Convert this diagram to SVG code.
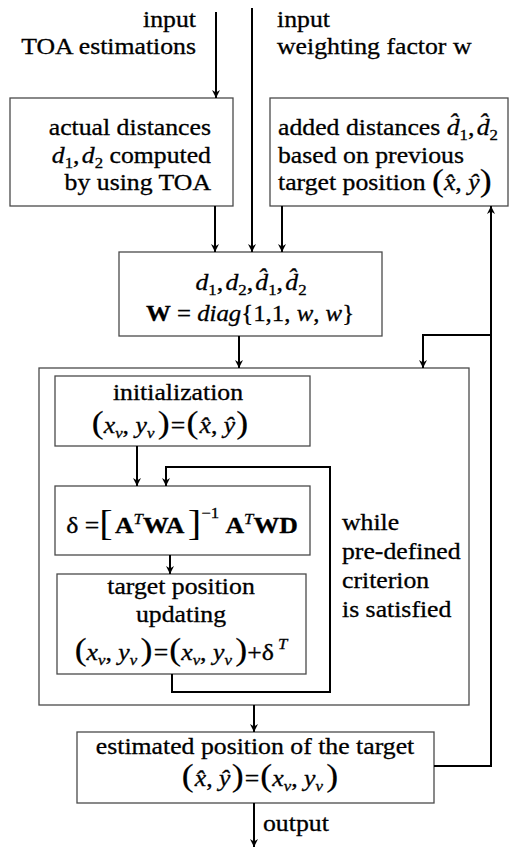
<svg xmlns="http://www.w3.org/2000/svg" width="511" height="848" viewBox="0 0 511 848">
<style>
  text { font-family: 'Liberation Serif', 'Times New Roman', serif; font-size: 23px; fill: #000; stroke: #000; stroke-width: 0.3; }
  .i { font-style: italic; }
  .b { font-weight: bold; }
  .s { font-size: 15px; }
  .p { font-size: 32px; stroke-width: 0.2; }
  .br { font-size: 36px; stroke-width: 0; }
  .box { fill: #fff; stroke: #4a4a4a; stroke-width: 1.3; }
  .wire { fill: none; stroke: #000; stroke-width: 2; }
</style>
<defs>
  <marker id="ah" viewBox="0 0 10 10" refX="10" refY="5" markerWidth="8" markerHeight="9" markerUnits="userSpaceOnUse" orient="auto">
    <path d="M0,0 L10,5 L0,10 L3,5 z" fill="#000"/>
  </marker>
</defs>

<!-- input labels -->
<g id="input-toa">
  <text transform="translate(196,27) scale(1.12,1)" text-anchor="end">input</text>
  <text transform="translate(196,54) scale(1.12,1)" text-anchor="end">TOA estimations</text>
</g>
<g id="input-w">
  <text transform="translate(277,27) scale(1.12,1)">input</text>
  <text transform="translate(277,54) scale(1.12,1)">weighting factor w</text>
</g>

<!-- actual distances -->
<g id="actual">
  <rect class="box" x="10" y="98" width="223" height="108"/>
  <text transform="translate(211,135) scale(1.12,1)" text-anchor="end">actual distances</text>
  <text transform="translate(211,163) scale(1.12,1)" text-anchor="end"><tspan class="i">d</tspan><tspan class="s" dy="5">1</tspan><tspan dy="-5">,</tspan><tspan class="i" dx="2">d</tspan><tspan class="s" dy="5">2</tspan><tspan dy="-5">  computed</tspan></text>
  <text transform="translate(211,190) scale(1.12,1)" text-anchor="end">by using TOA</text>
</g>

<!-- added distances -->
<g id="added">
  <rect class="box" x="270" y="98" width="238" height="108"/>
  <text transform="translate(278,135) scale(1.12,1)">added distances <tspan class="i">d&#x302;</tspan><tspan class="s" dy="5">1</tspan><tspan dy="-5">,</tspan><tspan class="i" dx="2">d&#x302;</tspan><tspan class="s" dy="5">2</tspan></text>
  <text transform="translate(278,163) scale(1.12,1)">based on previous</text>
  <text transform="translate(278,190) scale(1.12,1)">target position <tspan class="p" dy="1">(</tspan><tspan class="i" dy="-1">x&#x302;</tspan>, <tspan class="i">&#x177;</tspan><tspan class="p" dy="1">)</tspan></text>
</g>

<!-- combined inputs -->
<g id="combine">
  <rect class="box" x="119" y="252" width="263" height="84"/>
  <text transform="translate(251,290) scale(1.12,1)" text-anchor="middle"><tspan class="i">d</tspan><tspan class="s" dy="5">1</tspan><tspan dy="-5">,</tspan><tspan class="i" dx="2">d</tspan><tspan class="s" dy="5">2</tspan><tspan dy="-5">,</tspan><tspan class="i" dx="2">d&#x302;</tspan><tspan class="s" dy="5">1</tspan><tspan dy="-5">,</tspan><tspan class="i" dx="2">d&#x302;</tspan><tspan class="s" dy="5">2</tspan></text>
  <text transform="translate(250,321) scale(1.08,1)" text-anchor="middle"><tspan class="b">W</tspan> = <tspan class="i">diag</tspan>{1,1, <tspan class="i">w</tspan>, <tspan class="i">w</tspan>}</text>
</g>

<!-- iteration loop -->
<g id="loop">
  <rect class="box" x="39" y="368" width="430" height="337"/>
  <text transform="translate(342,530) scale(1.12,1)">while</text>
  <text transform="translate(342,559) scale(1.12,1)">pre-defined</text>
  <text transform="translate(342,588) scale(1.12,1)">criterion</text>
  <text transform="translate(342,617) scale(1.12,1)">is satisfied</text>
</g>

<g id="init">
  <rect class="box" x="55" y="376" width="255" height="70"/>
  <text transform="translate(178,400) scale(1.12,1)" text-anchor="middle">initialization</text>
  <text transform="translate(170,433) scale(1.12,1)" text-anchor="middle"><tspan class="p">(</tspan><tspan class="i">x</tspan><tspan class="i s" dy="5">v</tspan><tspan dy="-5">, </tspan><tspan class="i">y</tspan><tspan class="i s" dy="5">v</tspan><tspan class="p" dy="-5" dx="3">)</tspan><tspan dx="1">=</tspan><tspan class="p" dx="1">(</tspan><tspan class="i" dx="1">x&#x302;</tspan>, <tspan class="i">&#x177;</tspan><tspan class="p" dx="1">)</tspan></text>
</g>

<g id="delta">
  <rect class="box" x="55" y="486" width="255" height="69"/>
  <text transform="translate(182,533) scale(1.12,1)" text-anchor="middle">δ =<tspan class="br" dy="2">[</tspan><tspan class="b" dx="2" dy="-2">A</tspan><tspan class="i s" dy="-9">T</tspan><tspan class="b" dy="9">WA</tspan><tspan class="br" dx="3" dy="2">]</tspan><tspan class="s" dy="-17">−1</tspan><tspan dy="15">  </tspan><tspan class="b">A</tspan><tspan class="i s" dy="-9">T</tspan><tspan class="b" dy="9">WD</tspan></text>
</g>

<g id="update">
  <rect class="box" x="57" y="574" width="249" height="100"/>
  <text transform="translate(181,594) scale(1.12,1)" text-anchor="middle">target position</text>
  <text transform="translate(181,622) scale(1.12,1)" text-anchor="middle">updating</text>
  <text transform="translate(181,660) scale(1.12,1)" text-anchor="middle"><tspan class="p">(</tspan><tspan class="i">x</tspan><tspan class="i s" dy="5">v</tspan><tspan dy="-5">, </tspan><tspan class="i">y</tspan><tspan class="i s" dy="5">v</tspan><tspan class="p" dy="-5" dx="3">)</tspan><tspan dx="1">=</tspan><tspan class="p" dx="1">(</tspan><tspan class="i">x</tspan><tspan class="i s" dy="5">v</tspan><tspan dy="-5">, </tspan><tspan class="i">y</tspan><tspan class="i s" dy="5">v</tspan><tspan class="p" dy="-5" dx="3">)</tspan>+δ<tspan class="i s" dy="-11"> T</tspan></text>
</g>

<g id="estimate">
  <rect class="box" x="77" y="732" width="357" height="71"/>
  <text transform="translate(255,754) scale(1.12,1)" text-anchor="middle">estimated position of the target</text>
  <text transform="translate(260,786) scale(1.12,1)" text-anchor="middle"><tspan class="p">(</tspan><tspan class="i" dx="1">x&#x302;</tspan>, <tspan class="i">&#x177;</tspan><tspan class="p" dx="1">)</tspan><tspan dx="1">=</tspan><tspan class="p" dx="1">(</tspan><tspan class="i">x</tspan><tspan class="i s" dy="5">v</tspan><tspan dy="-5">, </tspan><tspan class="i">y</tspan><tspan class="i s" dy="5">v</tspan><tspan class="p" dy="-5" dx="3">)</tspan></text>
</g>

<g id="output-label">
  <text transform="translate(263,831) scale(1.12,1)">output</text>
</g>

<!-- connectors -->
<g id="connectors">
  <path class="wire" d="M216,12 V98" marker-end="url(#ah)"/>
  <path class="wire" d="M252,8 V252" marker-end="url(#ah)"/>
  <path class="wire" d="M215,206 V252" marker-end="url(#ah)"/>
  <path class="wire" d="M282,206 V252" marker-end="url(#ah)"/>
  <path class="wire" d="M239,336 V368" marker-end="url(#ah)"/>
  <path class="wire" d="M434,766 H491 V206" marker-end="url(#ah)"/>
  <path class="wire" d="M491,335 H423 V368" marker-end="url(#ah)"/>
  <path class="wire" d="M137,446 V486" marker-end="url(#ah)"/>
  <path class="wire" d="M170,555 V574" marker-end="url(#ah)"/>
  <path class="wire" d="M172,674 V692 H330 V467 H166 V486" marker-end="url(#ah)"/>
  <path class="wire" d="M254,705 V732" marker-end="url(#ah)"/>
  <path class="wire" d="M254,803 V847" marker-end="url(#ah)"/>
</g>
</svg>
